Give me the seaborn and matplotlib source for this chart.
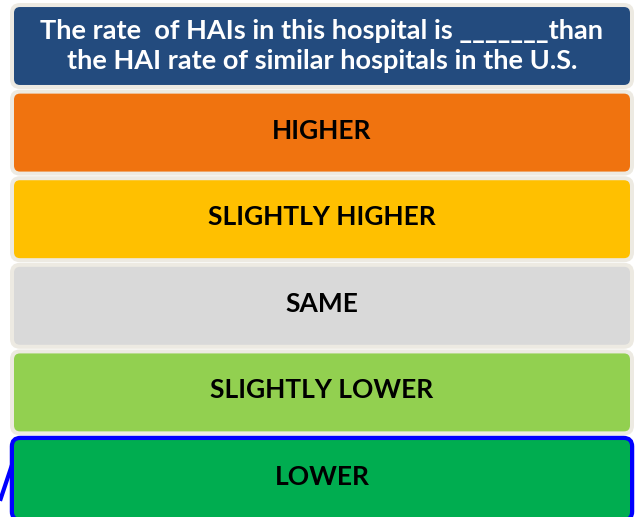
import matplotlib
matplotlib.use("Agg")
import matplotlib.pyplot as plt
import pandas as pd
import seaborn as sns
from matplotlib.patches import FancyBboxPatch

# Вопрос и варианты ответа (сверху вниз)
question = "The rate  of HAIs in this hospital is _______than\nthe HAI rate of similar hospitals in the U.S."
answers = ["HIGHER", "SLIGHTLY HIGHER", "SAME", "SLIGHTLY LOWER", "LOWER"]
rows = [question] + answers
widths = [1, 1, 1, 1, 1, 1]
fill_colors = ["#234B7E", "#F0730F", "#FFC000", "#D9D9D9", "#92D050", "#00AD50"]
text_colors = ["white", "black", "black", "black", "black", "black"]
selected = "LOWER"

sns.set_theme(style="white")
plt.rcParams["font.family"] = ["Lato", "DejaVu Sans"]

W, H = 636, 517
fig = plt.figure(figsize=(W / 100, H / 100), dpi=100)
ax = fig.add_axes([0, 0, 1, 1])

df = pd.DataFrame({"row": rows, "width": widths})
sns.barplot(data=df, y="row", x="width", hue="row", palette=fill_colors,
            orient="h", width=0.9, saturation=1, legend=False, ax=ax)

# пиксели на единицу данных
px_x = 616.0
px_y = 86.6
ax.set_xlim(-14 / px_x, 1 + 6 / px_x)
ax.set_ylim(5 + (517 - 479) / px_y, -46 / px_y)
ax.axis("off")

bars = sorted(ax.patches, key=lambda p: p.get_y())
for bar, label, tcol in zip(bars, rows, text_colors):
    x0, y0 = bar.get_x(), bar.get_y()
    w, h = bar.get_width(), bar.get_height()
    fc = bar.get_facecolor()
    bar.set_visible(False)

    if label == selected:
        pad = 2.5
        frame = FancyBboxPatch((x0 - pad / px_x, y0 - pad / px_y),
                               w + 2 * pad / px_x, h + 2 * pad / px_y,
                               boxstyle=f"round,pad=0,rounding_size={9 / px_x}",
                               mutation_aspect=px_x / px_y,
                               fc="#0000FF", ec="#0000FF", lw=2.5, zorder=2)
        # обрывок соединительной линии слева
        ax.plot([x0 - 14 / px_x, x0 - 1 / px_x],
                [y0 + h * 0.78, y0 + h * 0.28], color="#0000FF", lw=3,
                solid_capstyle="butt", zorder=2)
    else:
        pad = 4
        frame = FancyBboxPatch((x0 - pad / px_x, y0 - pad / px_y),
                               w + 2 * pad / px_x, h + 2 * pad / px_y,
                               boxstyle=f"round,pad=0,rounding_size={10 / px_x}",
                               mutation_aspect=px_x / px_y,
                               fc="#EDEAE2", ec="none", zorder=2)
    ax.add_patch(frame)

    box = FancyBboxPatch((x0, y0), w, h,
                         boxstyle=f"round,pad=0,rounding_size={6 / px_x}",
                         mutation_aspect=px_x / px_y,
                         fc=fc, ec="none", zorder=3)
    ax.add_patch(box)

    if label == question:
        ax.text(x0 + w / 2, y0 + h / 2, label, ha="center", va="center",
                color=tcol, fontsize=19.5, fontweight="bold", linespacing=1.32,
                zorder=4)
    else:
        ax.text(x0 + w / 2, y0 + h / 2 - 2 / px_y, label, ha="center", va="center",
                color=tcol, fontsize=19, fontweight="bold", zorder=4)

fig.savefig("out.png", dpi=100, facecolor="white")
